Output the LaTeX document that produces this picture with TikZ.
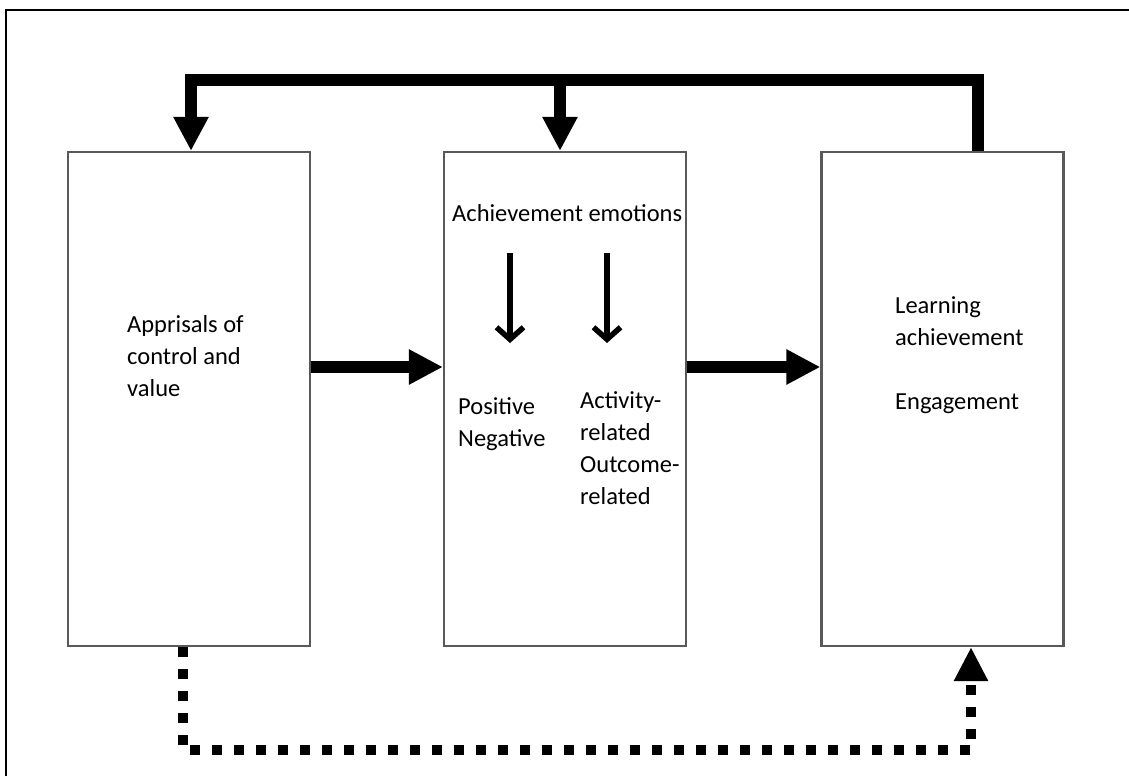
\documentclass[tikz,border=0pt]{standalone}
\usepackage{fontspec}
\setmainfont{Carlito}
\usetikzlibrary{arrows.meta}
\begin{document}
\begin{tikzpicture}[x=1pt,y=-1pt,
    stage/.style={draw=black!65,line width=2.2pt,minimum width=242pt,minimum height=494pt,inner sep=0pt},
    txt/.style={font=\fontsize{24.5}{32}\selectfont,align=left,inner sep=0pt,anchor=north west},
    bigarrow/.style={line width=12pt,line join=miter,-{Triangle[length=34pt,width=33pt]}},
    thinarrow/.style={line width=5.5pt,-{Straight Barb[length=12pt,width=27pt]}},
    dotarrow/.style={line width=10pt,dash pattern=on 10pt off 12pt,-{Triangle[length=34pt,width=32pt]}}]
  \useasboundingbox (0,0) rectangle (1129,776);

  % outer frame, cut off at right and bottom
  \draw[line width=2.2pt] (6,776) -- (6,10) -- (1129,10);

  \node[stage] (appr) at (189,399) {};
  \node[stage] (emo) at (565,399) {};
  \node[stage] (outc) at (942.5,399) {};

  \node[txt] (apprtxt) at (127,315) {Apprisals of\\control and\\value};
  \node[txt] (emotitle) at (452,204) {Achievement emotions};
  \node[txt] (valence) at (458,397) {Positive\\Negative};
  \node[txt] (focus) at (580,391) {Activity-\\related\\Outcome-\\related};
  \node[txt] (outctxt) at (895,296) {Learning\\achievement\\[32pt]Engagement};

  % small arrows inside the middle box
  \coordinate (vstart) at (510,253);
  \coordinate (vend) at (510,343);
  \coordinate (fstart) at (607,253);
  \coordinate (fend) at (607,343);
  \draw[thinarrow] (vstart) -- (vend);
  \draw[thinarrow] (fstart) -- (fend);

  % forward arrows
  \draw[bigarrow] ([yshift=32pt]appr.east) -- ([yshift=32pt]emo.west);
  \draw[bigarrow] ([yshift=32pt]emo.east) -- ([yshift=32pt]outc.west);

  % feedback loop on top
  \coordinate (topL) at (191,80);
  \coordinate (topM) at (560,80);
  \coordinate (topR) at (978,80);
  \draw[bigarrow] (outc.north -| topR) -- (topR) -- (topL) -- (appr.north -| topL);
  \draw[bigarrow] (topM) -- (emo.north -| topM);

  % dotted path at the bottom
  \coordinate (botL) at (183,750);
  \coordinate (botR) at (971,750);
  \draw[dotarrow] (appr.south -| botL) -- (botL) -- (botR) -- (outc.south -| botR);
\end{tikzpicture}
\end{document}
